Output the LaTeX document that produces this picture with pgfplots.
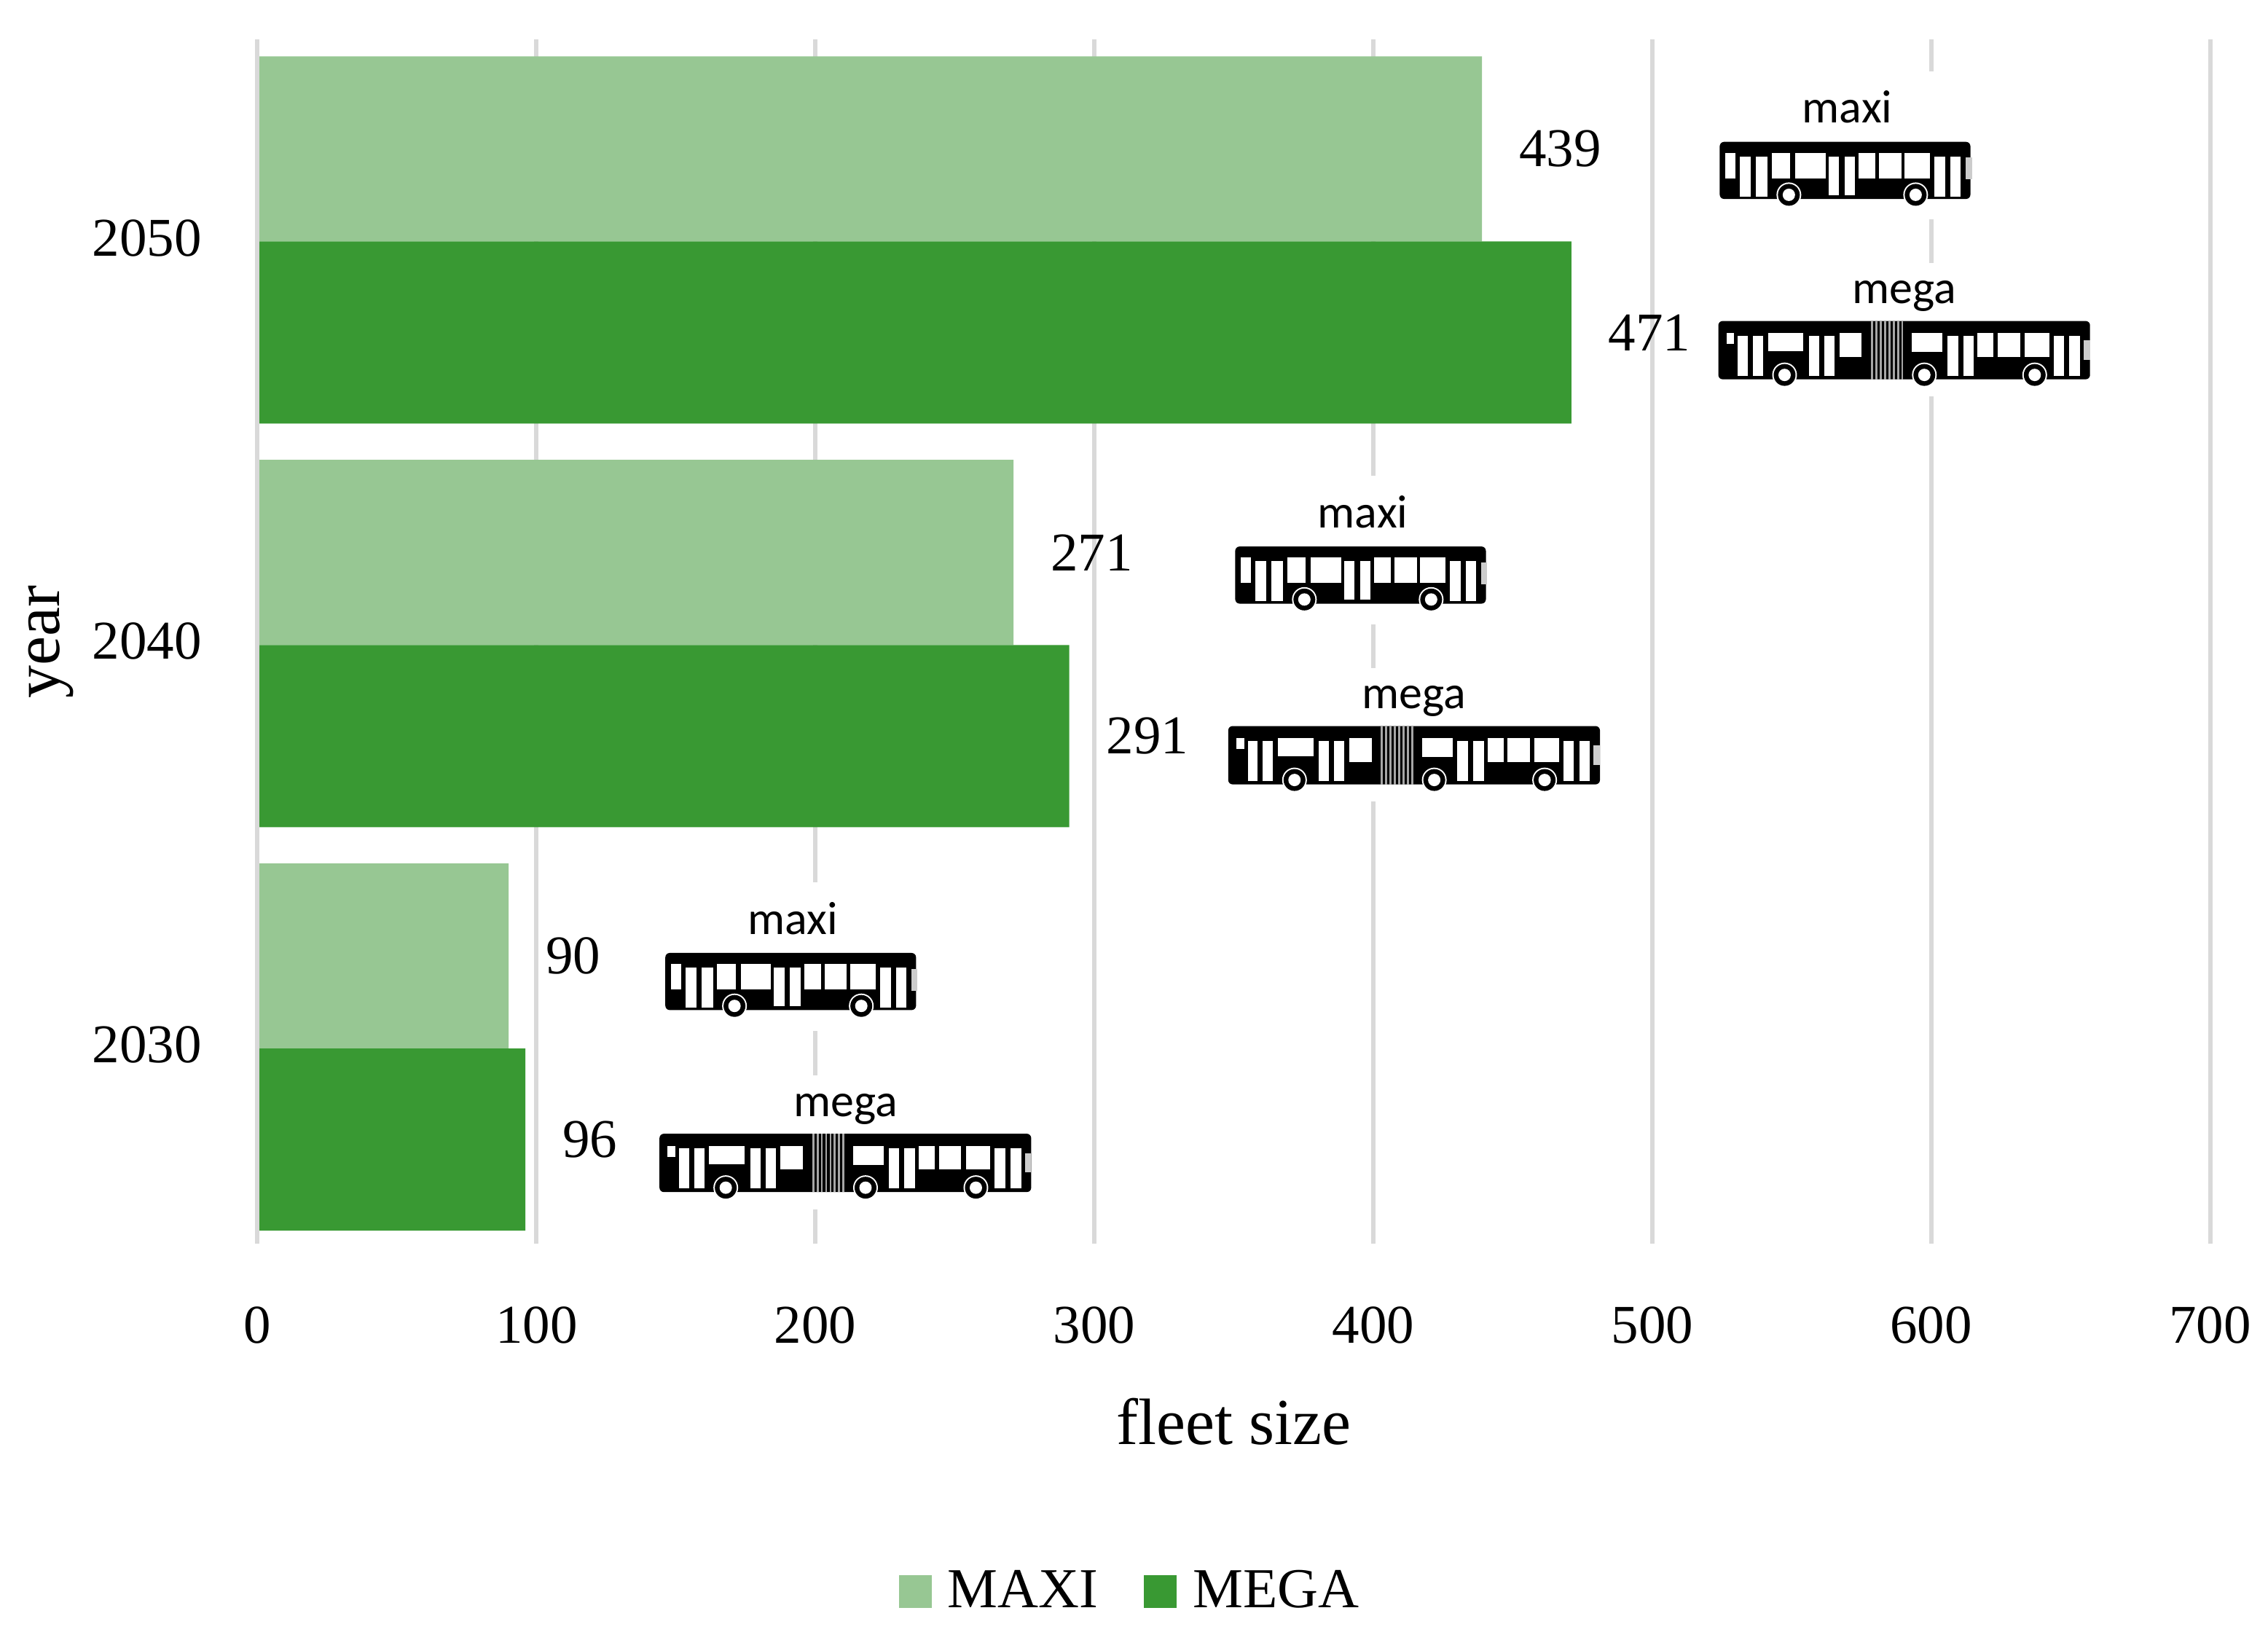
\documentclass[border=0pt]{standalone}
\usepackage{pgfplots}
\pgfplotsset{compat=1.18}
\usepackage{fontspec}
\setmainfont{Liberation Serif}
\newfontfamily\iconfont{Carlito}
\definecolor{maxicol}{HTML}{97C793}
\definecolor{megacol}{HTML}{399933}
\definecolor{gridcol}{HTML}{D9D9D9}

% icons are in zoomed pixel units, origin at top left of the bus body
\newcommand{\busmaxi}[1]{%
\begin{scope}[shift={(#1)},x=0.0791pt,y=-0.0667pt]
  \fill[white] (-20,-290) rectangle (900,320);
  \node[font=\iconfont\fontsize{12.8}{14}\selectfont,inner sep=0] at (443,-143) {maxi};
  \fill[black,rounded corners=1.2pt] (0,0) rectangle (870,235);
  \foreach \a/\b/\c/\d in {20/45/55/150, 70/60/107/225, 125/60/165/225, 180/45/245/150, 263/45/367/150,
    377/60/413/220, 433/60/470/220, 482/45/540/150, 553/45/630/150, 642/45/730/150,
    745/60/783/225, 800/60/837/225}
    \fill[white] (\a,\b) rectangle (\c,\d);
  \fill[gray!40] (853,65) rectangle (875,155);
  \foreach \w in {240,680} {
    \fill[white] (\w,218) circle (3.4pt);
    \fill[black] (\w,218) circle (3pt);
    \fill[white] (\w,218) circle (1.7pt);
  }
\end{scope}}
\newcommand{\busmega}[1]{%
\begin{scope}[shift={(#1)},x=0.0791pt,y=-0.0667pt]
  \fill[white] (-20,-240) rectangle (1310,310);
  \node[font=\iconfont\fontsize{12.8}{14}\selectfont,inner sep=0] at (645,-102) {mega};
  \fill[black,rounded corners=1.2pt] (0,0) rectangle (1290,240);
  \foreach \a/\b/\c/\d in {28/50/55/95, 68/60/102/225, 120/60/155/225, 172/50/295/125,
    315/60/350/225, 368/60/403/225, 420/50/498/147, 672/50/778/128,
    795/60/832/225, 850/60/887/225, 900/50/955/147, 970/50/1047/147, 1063/50/1148/147,
    1163/60/1200/225, 1218/60/1255/225}
    \fill[white] (\a,\b) rectangle (\c,\d);
  \foreach \s in {530,545,560,575,590,605,620,635}
    \fill[gray!70] (\s,0) rectangle ++(7,240);
  \fill[gray!40] (1268,80) rectangle (1290,160);
  \foreach \w in {230,715,1098} {
    \fill[white] (\w,222) circle (3.4pt);
    \fill[black] (\w,222) circle (3pt);
    \fill[white] (\w,222) circle (1.7pt);
  }
\end{scope}}

\begin{document}
\begin{tikzpicture}
\useasboundingbox (-70.7pt,-106.4pt) rectangle (551.9pt,341.4pt);
\begin{axis}[
    scale only axis,
    width=536pt,height=330.7pt,
    xbar,
    xmin=0,xmax=700,
    ymin=-0.484,ymax=2.502,
    xtick={0,100,200,300,400,500,600,700},
    ytick={0,1,2},
    yticklabels={2030,2040,2050},
    xmajorgrids,
    grid style={gridcol,line width=1.2pt},
    axis line style={draw=none},
    tick style={draw=none},
    x tick label style={yshift=-13.7pt},
    y tick label style={xshift=-7.5pt,yshift=1pt},
    tick label style={font=\fontsize{15}{18}\selectfont},
    /pgf/number format/assume math mode=true,
    /pgf/number format/.cd,1000 sep={},/pgfplots/.cd,
    xlabel={fleet size},
    ylabel={year},
    label style={font=\fontsize{18}{20}\selectfont},
    xlabel style={at={(axis description cs:0.5,0)},anchor=center,yshift=-48.8pt},
    ylabel style={at={(axis description cs:-0.1059,0.4994)},anchor=center},
    legend columns=2,
    legend style={draw=none,fill=none,at={(axis description cs:0.4482,0)},anchor=center,yshift=-95.5pt,
      font=\fontsize{15.5}{20}\selectfont,
      /tikz/every even column/.append style={column sep=10.5pt}},
    legend image code/.code={\fill[#1] (0pt,-4.5pt) rectangle (9pt,4.5pt); \path (11.4pt,0pt);},
    nodes near coords,
    nodes near coords align={anchor=west},
    every node near coord/.append style={font=\fontsize{15}{18}\selectfont,inner sep=0pt,xshift=10pt,
      /pgf/number format/assume math mode=true},
    clip=false,
]
\addplot[fill=maxicol,draw=none,bar width=50.8pt,bar shift=25.4pt] coordinates {(90,0) (271,1) (439,2)};
\addlegendentry{MAXI}
\addplot[fill=megacol,draw=none,bar width=50pt,bar shift=-25pt] coordinates {(96,0) (291,1) (471,2)};
\addlegendentry{MEGA}
\draw[gridcol,line width=1.2pt] (axis cs:0,-0.484) -- (axis cs:0,2.502);
\coordinate (a2050) at (axis cs:524.2,2.247);
\coordinate (b2050) at (axis cs:523.7,1.803);
\coordinate (a2040) at (axis cs:350.5,1.244);
\coordinate (b2040) at (axis cs:348,0.799);
\coordinate (a2030) at (axis cs:146.2,0.2366);
\coordinate (b2030) at (axis cs:144.1,-0.2115);
\end{axis}
\busmaxi{a2050}
\busmega{b2050}
\busmaxi{a2040}
\busmega{b2040}
\busmaxi{a2030}
\busmega{b2030}
\end{tikzpicture}
\end{document}
